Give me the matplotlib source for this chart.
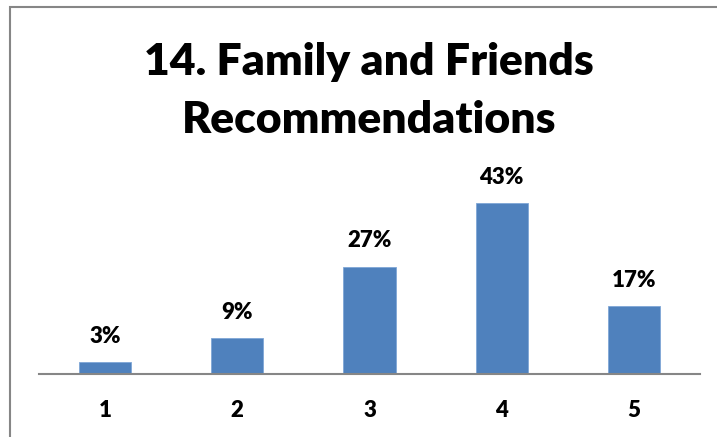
import matplotlib
matplotlib.use("Agg")
import matplotlib.pyplot as plt
from matplotlib.patches import Rectangle

categories = ["1", "2", "3", "4", "5"]
values = [3, 9, 27, 43, 17]
labels = ["3%", "9%", "27%", "43%", "17%"]
title = "14. Family and Friends\nRecommendations"

W, H = 717, 437
fig = plt.figure(figsize=(W / 100, H / 100), dpi=100)
fig.patch.set_facecolor("white")

# outer chart border
fig.patches.append(Rectangle((9.5 / W, -0.05), 1.2, (H - 6.5) / H + 0.05,
                             transform=fig.transFigure, fill=False,
                             edgecolor="#868686", linewidth=1.5))

left, right, base = 39, 700, 374
ymax = 50
top = base - 171 * ymax / 43
ax = fig.add_axes([left / W, (H - base) / H, (right - left) / W, (base - top) / H])
x = list(range(len(categories)))
ax.bar(x, values, width=0.394, color="#4F81BD", edgecolor="#7FA6D6", linewidth=0.6, zorder=2)
ax.set_xlim(-0.5, len(categories) - 0.5)
ax.set_ylim(0, ymax)
for s in ["top", "right", "left"]:
    ax.spines[s].set_visible(False)
ax.spines["bottom"].set_color("#868686")
ax.spines["bottom"].set_linewidth(1.5)
ax.set_yticks([])
ax.set_xticks(x)
ax.set_xticklabels(categories, fontsize=16, fontweight="heavy", family="Lato")
ax.tick_params(axis="x", length=0, pad=19)
for xi, v, lab in zip(x, values, labels):
    ax.annotate(lab, (xi, v), xytext=(0, 11), textcoords="offset points",
                ha="center", va="bottom", fontsize=16, fontweight="heavy", family="Lato")

fig.text(369 / W, 1 - 91 / H, title, ha="center", va="center", fontsize=32,
         fontweight="heavy", family="Lato", linespacing=1.55)

fig.savefig("out.png", dpi=100)
